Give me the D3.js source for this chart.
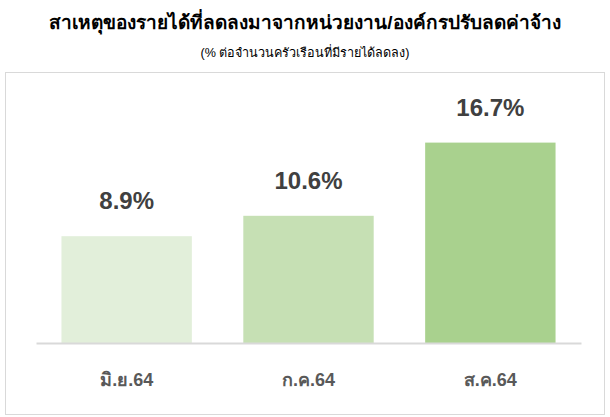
<!DOCTYPE html>
<html>
<head>
<meta charset="utf-8">
<script src="https://d3js.org/d3.v7.min.js"></script>
<style>
body { margin: 0; background: #fff; }
</style>
</head>
<body>
<svg class="target" width="610" height="417"></svg>
<script>

// data
const categories = ['มิ.ย.64', 'ก.ค.64', 'ส.ค.64']
const values = [8.9, 10.6, 16.7]
const barColors = ['#e2efda', '#c6e0b4', '#a9d18e']

const titleText = 'สาเหตุของรายได้ที่ลดลงมาจากหน่วยงาน/องค์กรปรับลดค่าจ้าง'
const subtitleText = '(% ต่อจำนวนครัวเรือนที่มีรายได้ลดลง)'

width = 610
height = 417

const svg = d3.select('.target')
  .attr('width', width)
  .attr('height', height)
  .style('font-family', 'Arial, "Liberation Sans", sans-serif')

// chart area frame
svg.append('rect')
  .attr('x', 5.5).attr('y', 72.5)
  .attr('width', 599).attr('height', 342)
  .attr('fill', '#fff')
  .attr('stroke', '#d9d9d9')

svg.append('text')
  .attr('x', width / 2).attr('y', 29)
  .attr('text-anchor', 'middle')
  .style('font-size', '19px').style('font-weight', 'bold')
  .attr('fill', '#000')
  .text(titleText)

svg.append('text')
  .attr('x', width / 2).attr('y', 57)
  .attr('text-anchor', 'middle')
  .style('font-size', '12.6px')
  .attr('fill', '#000')
  .text(subtitleText)

const xScale = d3.scaleBand(categories, [36, 581])
  .paddingInner(0.283)
  .paddingOuter(0.14)

const yScale = d3.scaleLinear([0, 20], [343, 103])

svg.append('g')
  .selectAll('rect')
  .data(values)
  .join('rect')
    .attr('x', (d, i) => xScale(categories[i]))
    .attr('y', d => yScale(d))
    .attr('width', xScale.bandwidth())
    .attr('height', d => yScale(0) - yScale(d))
    .attr('fill', (d, i) => barColors[i])

svg.append('g')
  .selectAll('text')
  .data(values)
  .join('text')
    .attr('x', (d, i) => xScale(categories[i]) + xScale.bandwidth() / 2)
    .attr('y', d => yScale(d) - 27)
    .attr('text-anchor', 'middle')
    .style('font-size', '24px').style('font-weight', 'bold')
    .attr('fill', '#404040')
    .text(d => d.toFixed(1) + '%')

const xAxis = d3.axisBottom(xScale).tickSize(0).tickPadding(30)

const gx = svg.append('g')
  .attr('transform', `translate(0,${yScale(0)})`)
  .call(xAxis)
gx.select('.domain').attr('stroke', '#d9d9d9').attr('stroke-width', 2)
gx.selectAll('text')
  .style('font-size', '18px').style('font-weight', 'bold')
  .style('font-family', 'Arial, "Liberation Sans", sans-serif')
  .attr('fill', '#595959')

</script>
</body>
</html>
